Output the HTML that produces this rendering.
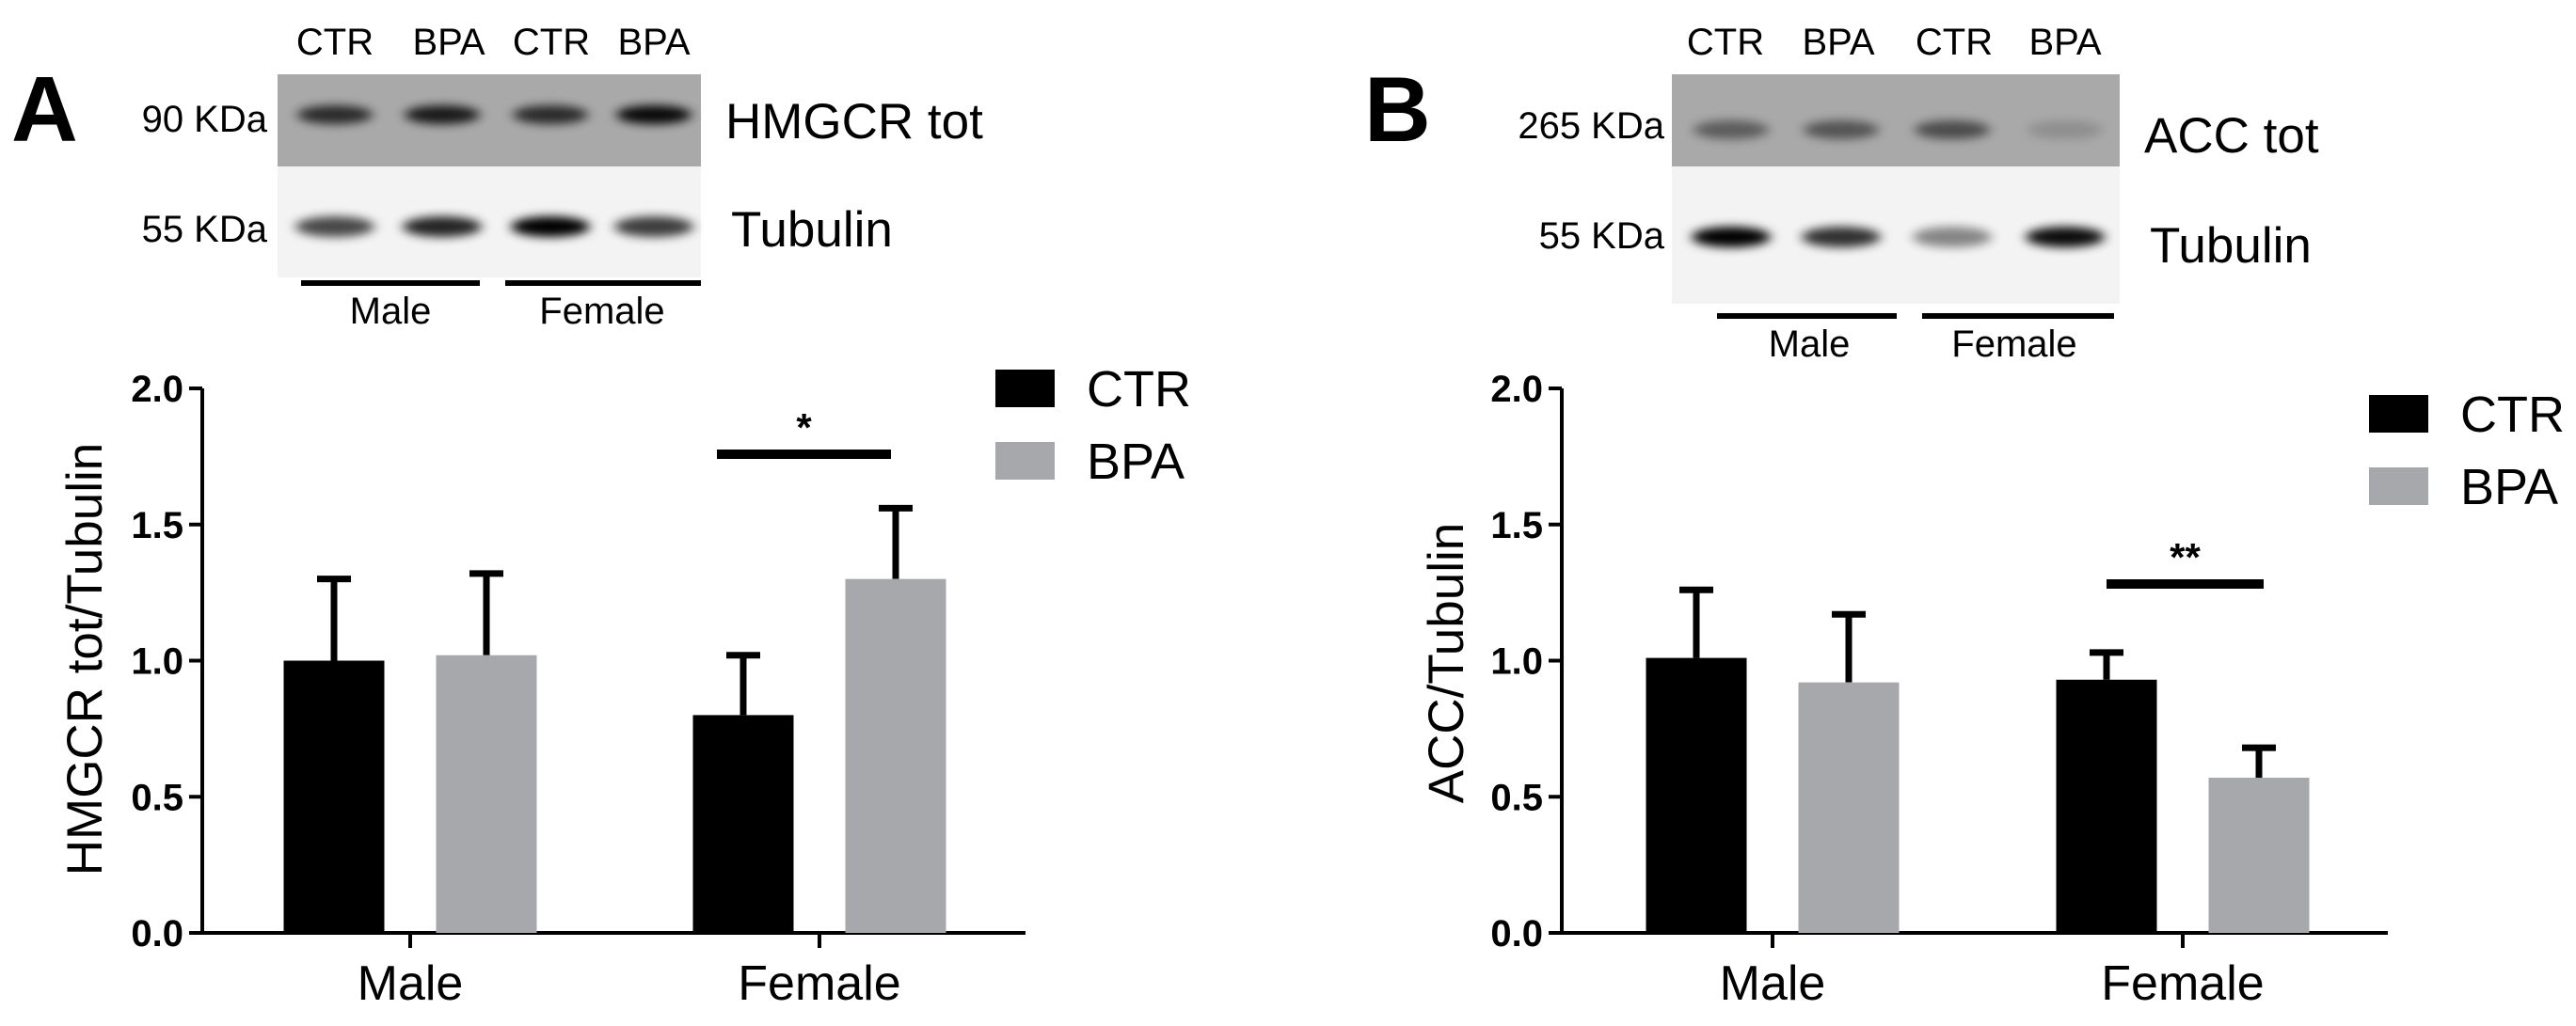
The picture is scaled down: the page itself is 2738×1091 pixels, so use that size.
<!DOCTYPE html>
<html><head><meta charset="utf-8">
<style>
html,body{margin:0;padding:0;background:#fff;}
svg{display:block;font-family:"Liberation Sans",sans-serif;}
</style></head>
<body>
<svg id="fig" width="2738" height="1091" viewBox="0 0 2738 1091">
<defs>
<filter id="blur" x="-30%" y="-100%" width="160%" height="300%"><feGaussianBlur stdDeviation="6 5"/></filter>
</defs>
<g id="blots"></g>
<g id="chartA"></g>
<g id="chartB"></g>
</svg>
<script>
// ---- data ----
const categories = ["Male", "Female"];
const seriesNames = ["CTR", "BPA"];
const yTicks = [0.0, 0.5, 1.0, 1.5, 2.0];
const yTickLabels = ["0.0", "0.5", "1.0", "1.5", "2.0"];
const hmgcrCTR = [1.00, 0.80];
const hmgcrBPA = [1.02, 1.30];
const hmgcrCTRerr = [0.30, 0.22];
const hmgcrBPAerr = [0.30, 0.26];
const accCTR = [1.01, 0.93];
const accBPA = [0.92, 0.57];
const accCTRerr = [0.25, 0.10];
const accBPAerr = [0.25, 0.11];
const hmgcrTopBands = [0.75, 0.85, 0.75, 0.95];
const hmgcrTubBands = [0.7, 0.85, 1.0, 0.75];
const accTopBands = [0.45, 0.5, 0.55, 0.15];
const accTubBands = [1.0, 0.8, 0.45, 0.95];

const NS = "http://www.w3.org/2000/svg";
function mk(parent, tag, attrs, text){
  const e = document.createElementNS(NS, tag);
  for (const k in attrs) e.setAttribute(k, attrs[k]);
  if (text !== undefined) e.textContent = text;
  parent.appendChild(e);
  return e;
}

function drawChart(g, cfg){
  const y0 = 992, y2 = 413;
  const yScale = v => y0 - (v / 2.0) * (y0 - y2);
  const ax = cfg.axisX;
  // y axis
  let e = mk(g, "line", {x1:ax, y1:y2, x2:ax, y2:y0+2, stroke:"#000", "stroke-width":4});
  
  
  e = mk(g, "line", {x1:ax-2, y1:y0, x2:cfg.axisEnd, y2:y0, stroke:"#000", "stroke-width":4});
  
  
  yTicks.forEach((t, i) => {
    const y = yScale(t);
    const tk = mk(g, "line", {x1:ax-14, y1:y, x2:ax, y2:y, stroke:"#000", "stroke-width":4});
    
    
    const lb = mk(g, "text", {x:ax-20, y:y+14, "text-anchor":"end", "font-size":40, "font-weight":"bold"}, yTickLabels[i]);
    
    
  });
  // y title
  const yt = mk(g, "text", {x:0, y:0, transform:`translate(${cfg.titleX},${cfg.titleY}) rotate(-90)`, "text-anchor":"middle", "font-size":53}, cfg.title);
  
  
  // categories
  categories.forEach((c, i) => {
    const cx = cfg.catX[i];
    const tk = mk(g, "line", {x1:cx, y1:y0, x2:cx, y2:y0+16, stroke:"#000", "stroke-width":4});
    
    
    const lb = mk(g, "text", {x:cx, y:1063, "text-anchor":"middle", "font-size":52}, c);
    
    
    const sets = [[cfg.ctr, cfg.ctrErr, "#000", -1], [cfg.bpa, cfg.bpaErr, "#a7a8ab", 1]];
    sets.forEach((s, j) => {
      const v = s[0][i], err = s[1][i];
      const bw = 107, off = 81;
      const bx = cx + s[3]*off - bw/2;
      const top = yScale(v), et = yScale(v+err);
      const mid = bx + bw/2;
      const el = mk(g, "line", {x1:mid, y1:top, x2:mid, y2:et, stroke:"#000", "stroke-width":7});
      
      
      const ec = mk(g, "line", {x1:mid-18, y1:et, x2:mid+18, y2:et, stroke:"#000", "stroke-width":7});
      
      
      const r = mk(g, "rect", {x:bx, y:top, width:bw, height:y0-top, fill:s[2]});
      
      
    });
  });
  // significance
  const sb = mk(g, "rect", {x:cfg.sig[0], y:cfg.sig[2]-5, width:cfg.sig[1]-cfg.sig[0], height:10, fill:"#000"});
  
  
  const st = mk(g, "text", {x:(cfg.sig[0]+cfg.sig[1])/2, y:cfg.sig[2]-14, "text-anchor":"middle", "font-size":42, "font-weight":"bold"}, cfg.stars);
  
  
  // legend
  const cols = ["#000", "#a7a8ab"];
  seriesNames.forEach((n, i) => {
    const ly = cfg.legY[i];
    const sq = mk(g, "rect", {x:cfg.legX, y:ly, width:63, height:40, fill:cols[i]});
    
    
    const lt = mk(g, "text", {x:cfg.legX+97, y:ly+39, "font-size":54}, n);
    
    
  });
}

drawChart(document.getElementById("chartA"), {
  axisX:215, axisEnd:1090, catX:[436, 871], title:"HMGCR tot/Tubulin", titleX:108, titleY:701,
  ctr:hmgcrCTR, bpa:hmgcrBPA, ctrErr:hmgcrCTRerr, bpaErr:hmgcrBPAerr,
  sig:[762, 947, 483], stars:"*", legX:1058, legY:[393, 470]
});
drawChart(document.getElementById("chartB"), {
  axisX:1660, axisEnd:2538, catX:[1884, 2320], title:"ACC/Tubulin", titleX:1555, titleY:705,
  ctr:accCTR, bpa:accBPA, ctrErr:accCTRerr, bpaErr:accBPAerr,
  sig:[2239, 2406, 621], stars:"**", legX:2518, legY:[420, 497]
});

// ---- blots ----
function drawBlot(g, cfg){
  const r1 = mk(g, "rect", {x:cfg.x, y:79, width:cfg.w, height:98, fill:"#a9a9a9"});
  
  
  const r2 = mk(g, "rect", {x:cfg.x, y:177, width:cfg.w, height:cfg.h2, fill:"#f3f3f3"});
  
  
  cfg.lanes.forEach((lx, i) => {
    const b1 = mk(g, "ellipse", {cx:lx, cy:cfg.by1, rx:40, ry:10, fill:"#000", opacity:cfg.top[i], filter:"url(#blur)"});
    
    
    const b2 = mk(g, "ellipse", {cx:lx, cy:cfg.by2, rx:42, ry:11, fill:"#000", opacity:cfg.tub[i], filter:"url(#blur)"});
    
    
    const lb = mk(g, "text", {x:cfg.lab[i], y:58, "text-anchor":"middle", "font-size":40}, seriesNames[i%2]);
    
    
  });
  cfg.lines.forEach((ln, i) => {
    const l = mk(g, "rect", {x:ln[0], y:cfg.ly-3, width:ln[1]-ln[0], height:6, fill:"#000"});
    
    
    const t = mk(g, "text", {x:cfg.glx[i], y:cfg.ly+43, "text-anchor":"middle", "font-size":40}, categories[i]);
    
    
  });
  const k1 = mk(g, "text", {x:cfg.kx, y:cfg.ky[0], "text-anchor":"end", "font-size":40}, cfg.kda[0]);
  
  
  const k2 = mk(g, "text", {x:cfg.kx, y:cfg.ky[1], "text-anchor":"end", "font-size":40}, cfg.kda[1]);
  
  
  const p1 = mk(g, "text", {x:cfg.px, y:cfg.py[0], "font-size":53}, cfg.prot);
  
  
  const p2 = mk(g, "text", {x:cfg.px+6, y:cfg.py[1], "font-size":53}, "Tubulin");
  
  
  const pl = mk(g, "text", {x:cfg.pan[0], y:150, "font-size":98, "font-weight":"bold"}, cfg.pan[1]);
  
  
}
const gb = document.getElementById("blots");
drawBlot(gb, {name:"hmgcr", x:295, w:450, h2:118, lanes:[356, 470, 585, 695], by1:122, by2:241,
  top:hmgcrTopBands, tub:hmgcrTubBands, lab:[356, 477, 586, 695],
  lines:[[320, 510], [537, 745]], ly:301, glx:[415, 640],
  kx:284, ky:[140, 257], kda:["90 KDa", "55 KDa"], px:771, py:[147, 262], prot:"HMGCR tot", pan:[12, "A"]});
drawBlot(gb, {name:"acc", x:1777, w:476, h2:146, lanes:[1840, 1957, 2075, 2195], by1:138, by2:252,
  top:accTopBands, tub:accTubBands, lab:[1834, 1954, 2077, 2195],
  lines:[[1825, 2016], [2043, 2247]], ly:336, glx:[1923, 2141],
  kx:1769, ky:[147, 264], kda:["265 KDa", "55 KDa"], px:2279, py:[162, 279], prot:"ACC tot", pan:[1450, "B"]});
</script>
</body></html>
